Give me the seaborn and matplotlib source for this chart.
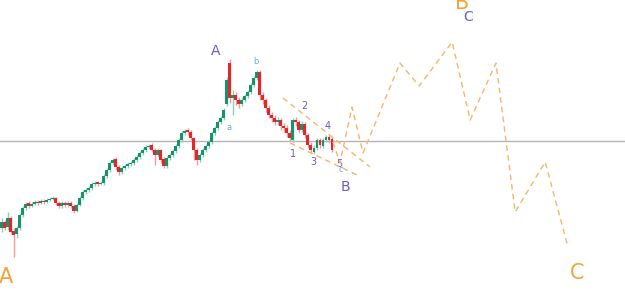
import numpy as np
import pandas as pd
import matplotlib
matplotlib.use("Agg")
import matplotlib.pyplot as plt
import seaborn as sns

# ---- candle data (price units) ----
opens = [72, 78, 73, 82, 69, 66, 72, 85, 92, 97, 94, 96, 98, 97, 99, 98, 100, 101, 102, 97,
         94, 97, 95, 97, 94, 89, 95, 102, 108, 110, 112, 116, 118, 116, 117, 124, 130, 137, 141, 133,
         128, 132, 134, 136, 137, 140, 143, 147, 150, 153, 155, 150, 145, 150, 141, 134, 142, 145, 149, 154,
         160, 167, 170, 168, 162, 150, 140, 145, 150, 154, 158, 167, 172, 178, 182, 196, 237, 202, 205, 200,
         196, 200, 204, 208, 215, 222, 228, 205, 200, 192, 185, 182, 178, 180, 174, 172, 167, 160, 180, 178,
         170, 176, 165, 155, 148, 152, 160, 154, 160, 163, 161]
closes = [78, 72, 82, 68, 65, 72, 85, 92, 96, 94, 96, 98, 97, 99, 98, 100, 101, 102, 97, 94,
          97, 95, 97, 94, 89, 95, 102, 108, 110, 112, 116, 117, 116, 117, 124, 130, 137, 140, 133, 128,
          132, 134, 136, 137, 140, 143, 147, 150, 153, 154, 150, 145, 150, 140, 134, 142, 145, 149, 154, 160,
          167, 169, 168, 162, 150, 140, 145, 150, 154, 158, 167, 172, 178, 182, 190, 220, 202, 205, 200, 196,
          200, 204, 208, 215, 222, 228, 205, 200, 192, 185, 182, 178, 180, 174, 172, 167, 162, 180, 178, 170,
          176, 165, 155, 150, 152, 160, 155, 160, 163, 160, 150]
highs = [82, 80, 88, 84, 72, 74, 87, 94, 98, 99, 98, 100, 100, 101, 101, 102, 103, 104, 103, 99,
         99, 99, 99, 99, 96, 97, 104, 110, 112, 114, 118, 119, 119, 119, 126, 132, 139, 142, 143, 135,
         134, 136, 138, 139, 142, 145, 149, 152, 155, 156, 157, 152, 152, 151, 143, 144, 147, 151, 156, 162,
         169, 171, 172, 170, 163, 152, 147, 152, 156, 160, 169, 174, 180, 184, 192, 223, 241, 210, 208, 203,
         203, 206, 210, 217, 224, 230, 230, 208, 202, 195, 188, 185, 183, 182, 177, 175, 170, 182, 183, 180,
         179, 178, 167, 158, 155, 162, 162, 162, 165, 165, 163]
lows = [68, 70, 70, 66, 43, 62, 70, 83, 90, 92, 93, 95, 95, 96, 96, 97, 99, 100, 95, 92,
        92, 93, 93, 92, 87, 88, 94, 100, 106, 108, 110, 114, 114, 115, 115, 122, 128, 135, 130, 125,
        126, 130, 132, 134, 135, 138, 141, 145, 148, 151, 148, 135, 143, 137, 132, 132, 140, 143, 147, 152,
        158, 165, 165, 160, 140, 135, 138, 143, 148, 152, 156, 165, 170, 176, 180, 194, 197, 185, 195, 192,
        194, 198, 202, 206, 213, 220, 200, 196, 188, 182, 178, 175, 175, 170, 168, 163, 159, 158, 174, 167,
        168, 162, 152, 147, 146, 150, 152, 152, 158, 157, 148]

# reference horizontal level
level = 159

# projected wave path (bar index, price)
path_x = [110.5, 112.8, 116.8, 120.5, 132.8, 139.2, 150.2, 156.2, 164.8, 171.2, 181.2, 188.8]
path_y = [158, 137, 193, 147, 237, 214, 258, 180, 237, 88, 138, 53]
# channel lines
chan_up_x = [93.8, 122.8]
chan_up_y = [202, 133]
chan_lo_x = [96.2, 118.5]
chan_lo_y = [157, 125]

# labels: (text, x, y)
big_labels = [("A", 1.5, 23), ("B", 153.5, 297), ("C", 191.8, 27)]
mid_labels = [("A", 71.5, 249), ("C", 155.5, 283), ("B", 114.5, 113)]
num_labels = [("1", 97.2, 146), ("2", 100.8, 194), ("3", 103.8, 138), ("4", 108.8, 174), ("5", 112.5, 136)]
small_labels = [("a", 75.8, 173), ("b", 84.8, 239), ("c", 113.2, 130)]

sns.set_theme(style="white")
plt.rcParams['font.family'] = ['DejaVu Sans']

fig = plt.figure(figsize=(6.25, 2.96), dpi=100)
ax = fig.add_axes([0, 0, 1, 1])

UP, DOWN = "#17936c", "#e3262c"
UPW, DOWNW = "#8ccfb8", "#f29a9c"
idx = np.arange(len(closes))
o = np.array(opens); c = np.array(closes); h = np.array(highs); l = np.array(lows)
up = c >= o
ax.vlines(idx[up], l[up], h[up], color=UPW, lw=1, zorder=2)
ax.vlines(idx[~up], l[~up], h[~up], color=DOWNW, lw=1, zorder=2)
body_b = np.minimum(o, c)
body_h = np.maximum(np.abs(c - o), 0.8)
ax.bar(idx[up], body_h[up], bottom=body_b[up], width=0.7, color=UP, lw=0, zorder=3)
ax.bar(idx[~up], body_h[~up], bottom=body_b[~up], width=0.7, color=DOWN, lw=0, zorder=3)

ax.axhline(level, color="#b4b4b4", lw=1, zorder=1)

DASH = "#f9b466"
for xs, ys in [(path_x, path_y), (chan_up_x, chan_up_y), (chan_lo_x, chan_lo_y)]:
    df = pd.DataFrame({"x": xs, "y": ys})
    sns.lineplot(data=df, x="x", y="y", sort=False, ax=ax, color=DASH, lw=1,
                 linestyle=(0, (4, 3)), zorder=4)

ORANGE, PURPLE, LBLUE = "#f6a237", "#6a5cc0", "#5eaef0"
for t, x, y in big_labels:
    ax.text(x, y, t, color=ORANGE, fontsize=15, ha="center", va="center")
for t, x, y in mid_labels:
    ax.text(x, y, t, color=PURPLE, fontsize=10, ha="center", va="center")
for t, x, y in num_labels:
    ax.text(x, y, t, color=PURPLE, fontsize=7, ha="center", va="center")
for t, x, y in small_labels:
    ax.text(x, y, t, color=LBLUE, fontsize=6, ha="center", va="center")

ax.set_xlim(-0.5, 207.8)
ax.set_ylim(4, 300)
ax.set_xlabel(""); ax.set_ylabel("")
ax.set_xticks([]); ax.set_yticks([])
for s in ax.spines.values():
    s.set_visible(False)

fig.savefig("out.png", dpi=100)
